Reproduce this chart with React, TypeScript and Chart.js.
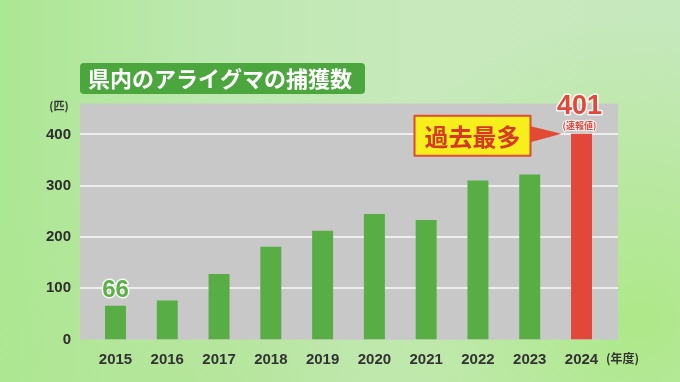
import React, { useEffect, useRef } from "react";
import { Chart, registerables } from "chart.js";

Chart.register(...registerables);

const categories = ["2015", "2016", "2017", "2018", "2019", "2020", "2021", "2022", "2023", "2024"];
const captures = [66, 76, 128, 181, 212, 245, 233, 310, 322, 401];
const yTickValues = [0, 100, 200, 300, 400];
const titleText = "県内のアライグマの捕獲数";
const yUnitText = "(匹)";
const xUnitText = "(年度)";
const calloutText = "過去最多";
const prelimText = "(速報値)";

const GREEN = "#58ad44";
const RED = "#e2483a";
const JP = '"Noto Sans CJK JP", "Noto Sans", sans-serif';
const NUM = '"Liberation Sans", Arial, sans-serif';

const decorPlugin = {
  id: "decor",
  beforeDraw(chart: any) {
    const { ctx, width, height, chartArea, scales } = chart;
    ctx.save();
    // background
    const g = ctx.createLinearGradient(0, 0, width, 0);
    g.addColorStop(0, "#ace792");
    g.addColorStop(0.3, "#bde8b0");
    g.addColorStop(0.6, "#c7e9bb");
    g.addColorStop(1, "#c6e8bd");
    ctx.fillStyle = g;
    ctx.fillRect(0, 0, width, height);
    const r = ctx.createRadialGradient(640, 320, 10, 640, 320, 300);
    r.addColorStop(0, "rgba(170,232,130,0.85)");
    r.addColorStop(1, "rgba(170,232,130,0)");
    ctx.fillStyle = r;
    ctx.fillRect(0, 0, width, height);
    const r2 = ctx.createRadialGradient(200, 382, 10, 200, 382, 260);
    r2.addColorStop(0, "rgba(175,228,140,0.6)");
    r2.addColorStop(1, "rgba(175,228,140,0)");
    ctx.fillStyle = r2;
    ctx.fillRect(0, 0, width, height);

    // plot panel
    const left = chartArea.left - 9.6;
    const right = chartArea.right + 10.6;
    ctx.fillStyle = "#c8c8c8";
    ctx.fillRect(left, chartArea.top, right - left, chartArea.bottom - chartArea.top);

    // grid lines
    ctx.strokeStyle = "#eeeeee";
    ctx.lineWidth = 2;
    yTickValues.forEach((v) => {
      if (v === 0) return;
      const y = Math.round(scales.y.getPixelForValue(v)) + 0.0;
      ctx.beginPath();
      ctx.moveTo(left, y);
      ctx.lineTo(right, y);
      ctx.stroke();
    });
    ctx.restore();
  },
  afterDraw(chart: any) {
    const { ctx, chartArea } = chart;
    const meta = chart.getDatasetMeta(0);
    ctx.save();

    // title box
    ctx.fillStyle = "#4ba73d";
    ctx.beginPath();
    (ctx as any).roundRect(80, 63, 285, 31, 4);
    ctx.fill();
    ctx.fillStyle = "#ffffff";
    ctx.font = `bold 22px ${JP}`;
    ctx.textAlign = "left";
    ctx.textBaseline = "middle";
    ctx.fillText(titleText, 88, 79);

    // axis units
    ctx.fillStyle = "#333333";
    ctx.font = `bold 11px ${JP}`;
    ctx.textAlign = "center";
    ctx.fillText(yUnitText, 59, 106);
    ctx.font = `bold 12px ${JP}`;
    ctx.textAlign = "left";
    ctx.fillText(xUnitText, 606, 358);

    // first bar label
    const b0 = meta.data[0];
    ctx.font = `bold 24px ${NUM}`;
    ctx.textAlign = "center";
    ctx.textBaseline = "middle";
    ctx.lineJoin = "round";
    ctx.lineWidth = 3;
    ctx.strokeStyle = "rgba(255,255,255,0.85)";
    ctx.strokeText(String(captures[0]), b0.x, b0.y - 15);
    ctx.fillStyle = "#5bb046";
    ctx.fillText(String(captures[0]), b0.x, b0.y - 15);

    // last bar label
    const last = captures.length - 1;
    const bl = meta.data[last];
    ctx.font = `bold 27px ${NUM}`;
    ctx.strokeText(String(captures[last]), bl.x - 2, bl.y - 27);
    ctx.fillStyle = RED;
    ctx.fillText(String(captures[last]), bl.x - 2, bl.y - 27);
    ctx.font = `bold 9px ${JP}`;
    ctx.lineWidth = 2;
    ctx.strokeText(prelimText, bl.x - 2, bl.y - 8);
    ctx.fillText(prelimText, bl.x - 2, bl.y - 8);

    // callout
    const tipX = bl.x - 20;
    const tipY = bl.y;
    const boxR = tipX - 31;
    const boxL = boxR - 116;
    const boxT = tipY - 18;
    const boxH = 40;
    ctx.fillStyle = "#e34a36";
    ctx.beginPath();
    ctx.moveTo(boxR - 2, tipY - 8);
    ctx.lineTo(tipX, tipY);
    ctx.lineTo(boxR - 2, tipY + 9);
    ctx.closePath();
    ctx.fill();
    ctx.fillStyle = "#f6ef1c";
    ctx.fillRect(boxL, boxT, 116, boxH);
    ctx.strokeStyle = "#e04a34";
    ctx.lineWidth = 2;
    ctx.strokeRect(boxL, boxT, 116, boxH);
    ctx.fillStyle = "#d63a26";
    ctx.font = `bold 24px ${JP}`;
    ctx.textAlign = "center";
    ctx.textBaseline = "middle";
    ctx.fillText(calloutText, (boxL + boxR) / 2, boxT + boxH / 2 + 1);

    ctx.restore();
  },
};

export default function App() {
  const ref = useRef<HTMLCanvasElement | null>(null);
  useEffect(() => {
    if (!ref.current) return;
    const chart = new Chart(ref.current, {
      type: "bar",
      data: {
        labels: categories,
        datasets: [
          {
            data: captures,
            backgroundColor: captures.map((_, i) => (i === captures.length - 1 ? RED : GREEN)),
            barPercentage: 0.405,
            categoryPercentage: 1,
          },
        ],
      },
      options: {
        responsive: false,
        animation: false,
        devicePixelRatio: 1,
        layout: { padding: { top: 103.6, right: 72.6, left: 0, bottom: 0 } },
        plugins: { legend: { display: false }, tooltip: { enabled: false }, title: { display: false } },
        scales: {
          x: {
            grid: { display: false, drawTicks: false },
            border: { display: false },
            ticks: { color: "#333333", font: { family: NUM, size: 15, weight: "bold" }, padding: 11 },
            afterFit: (s: any) => {
              s.height = 42.4;
            },
          },
          y: {
            min: 0,
            max: 460,
            grid: { display: false, drawTicks: false },
            border: { display: false },
            ticks: {
              stepSize: 100,
              color: "#2e2e2e",
              font: { family: NUM, size: 15, weight: "bold" },
              padding: 18.6,
              callback: (v: any) => (yTickValues.includes(Number(v)) ? String(v) : ""),
            },
            afterFit: (s: any) => {
              s.width = 89.6;
            },
          },
        },
      },
      plugins: [decorPlugin],
    });
    return () => chart.destroy();
  }, []);
  return (
    <div style={{ position: "absolute", left: 0, top: 0, width: 680, height: 382 }}>
      <canvas ref={ref} width={680} height={382} style={{ width: 680, height: 382, display: "block" }} />
    </div>
  );
}
